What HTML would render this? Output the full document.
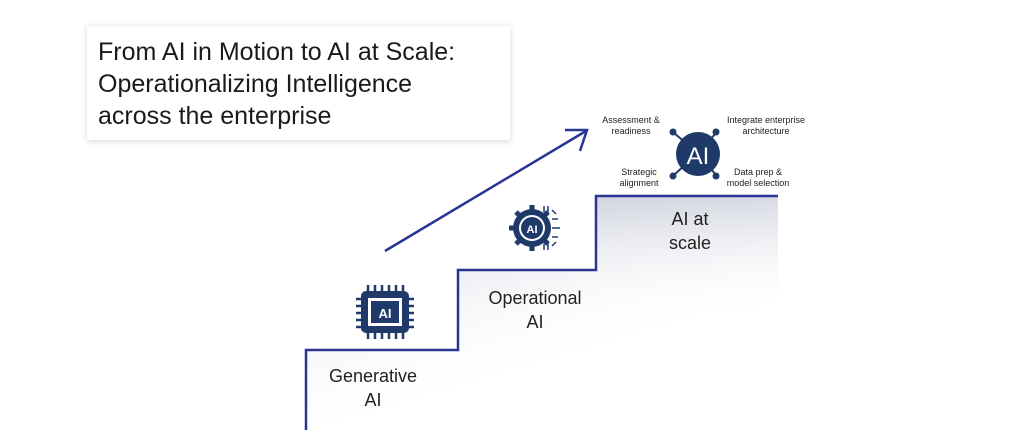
<!DOCTYPE html>
<html><head><style>
body{margin:0;width:1024px;height:439px;background:#fff;position:relative;overflow:hidden;font-family:"Liberation Sans",sans-serif;}
.box{position:absolute;left:87px;top:26px;width:423px;height:114px;background:#fff;box-shadow:0 1px 6px rgba(0,0,0,.18);}
.box div{position:absolute;left:11px;top:10px;font-size:25px;line-height:32px;color:#1a1a1a;}
.t{position:absolute;text-align:center;color:#222;}
.s{position:absolute;font-size:9px;line-height:11px;color:#222;text-align:center;}
</style></head><body>
<div class="box"><div>From AI in Motion to AI at Scale:<br>Operationalizing Intelligence<br>across the enterprise</div></div>
<svg width="1024" height="439" style="position:absolute;left:0;top:0">
<defs>
<linearGradient id="g1" x1="0" y1="0" x2="0.6" y2="1"><stop offset="0" stop-color="#c4c8d6"/><stop offset="0.8" stop-color="#fff" stop-opacity="0"/></linearGradient>
<linearGradient id="g2" x1="0" y1="0" x2="0" y2="1"><stop offset="0" stop-color="#c4c8d6" stop-opacity="0.6"/><stop offset="0.5" stop-color="#fff" stop-opacity="0"/></linearGradient>
</defs>
<polygon points="306,430 306,350 458,350 458,270 596,270 596,196 778,196 778,430" fill="url(#g1)"/>
<polygon points="306,430 306,350 458,350 458,270 596,270 596,196 778,196 778,430" fill="url(#g2)"/>
<polyline points="306,430 306,350 458,350 458,270 596,270 596,196 778,196" fill="none" stroke="#2a3593" stroke-width="2.5"/>
<line x1="385" y1="251" x2="586" y2="131" stroke="#2a3593" stroke-width="2.5"/>
<polyline points="565,130 587,130 580,151" fill="none" stroke="#2a3593" stroke-width="2.5"/>
<g stroke="#1f3a68" stroke-width="2">
<line x1="698" y1="153" x2="674" y2="133"/><line x1="698" y1="153" x2="716" y2="133"/>
<line x1="698" y1="153" x2="674" y2="175"/><line x1="698" y1="153" x2="716" y2="175"/></g>
<g fill="#1f3a68"><circle cx="673" cy="132" r="3.5"/><circle cx="716" cy="132" r="3.5"/><circle cx="673" cy="176" r="3.5"/><circle cx="716" cy="176" r="3.5"/>
<circle cx="698" cy="154" r="22"/></g>
<text x="698" y="164" text-anchor="middle" font-size="24" fill="#fff" font-family="Liberation Sans">AI</text>
<g fill="#1f3a68">
<g stroke="#1f3a68" stroke-width="2.5">
<line x1="368" y1="285" x2="368" y2="339"/><line x1="375" y1="285" x2="375" y2="339"/><line x1="382" y1="285" x2="382" y2="339"/><line x1="389" y1="285" x2="389" y2="339"/><line x1="396" y1="285" x2="396" y2="339"/><line x1="403" y1="285" x2="403" y2="339"/>
<line x1="356" y1="299" x2="414" y2="299"/><line x1="356" y1="306" x2="414" y2="306"/><line x1="356" y1="313" x2="414" y2="313"/><line x1="356" y1="320" x2="414" y2="320"/><line x1="356" y1="327" x2="414" y2="327"/></g>
<rect x="361" y="291" width="48" height="42" rx="5"/>
<rect x="368" y="298" width="34" height="28" fill="#fff"/>
<rect x="371" y="301" width="28" height="22"/></g>
<text x="385" y="318" text-anchor="middle" font-size="13" font-weight="bold" fill="#fff">AI</text>
<g fill="#1f3a68">
<circle cx="532" cy="228" r="19"/>
<g stroke="#1f3a68" stroke-width="5">
<line x1="532" y1="205" x2="532" y2="251"/><line x1="509" y1="228" x2="536" y2="228"/>
<line x1="516" y1="212" x2="548" y2="244"/><line x1="516" y1="244" x2="548" y2="212"/></g>
<circle cx="532" cy="228" r="13" fill="#fff"/><circle cx="532" cy="228" r="11"/></g>
<text x="532" y="233" text-anchor="middle" font-size="11" font-weight="bold" fill="#fff">AI</text>
<g stroke="#1f3a68" stroke-width="1.5" fill="none">
<path d="M544,206 v6 M548,206 v8 M552,210 l4,4 M552,219 h6 M552,228 h8 M552,237 h6 M552,246 l4,-4 M548,250 v-8 M544,250 v-6"/></g>
</svg>
<div class="t" style="left:318px;top:364px;width:110px;font-size:18px;line-height:24px">Generative<br>AI</div>
<div class="t" style="left:475px;top:286px;width:120px;font-size:18px;line-height:24px">Operational<br>AI</div>
<div class="t" style="left:640px;top:207px;width:100px;font-size:18px;line-height:24px">AI at<br>scale</div>
<div class="s" style="left:596px;top:115px;width:70px">Assessment &amp;<br>readiness</div>
<div class="s" style="left:718px;top:115px;width:96px">Integrate enterprise<br>architecture</div>
<div class="s" style="left:612px;top:167px;width:54px">Strategic<br>alignment</div>
<div class="s" style="left:718px;top:167px;width:80px">Data prep &amp;<br>model selection</div>
</body></html>
